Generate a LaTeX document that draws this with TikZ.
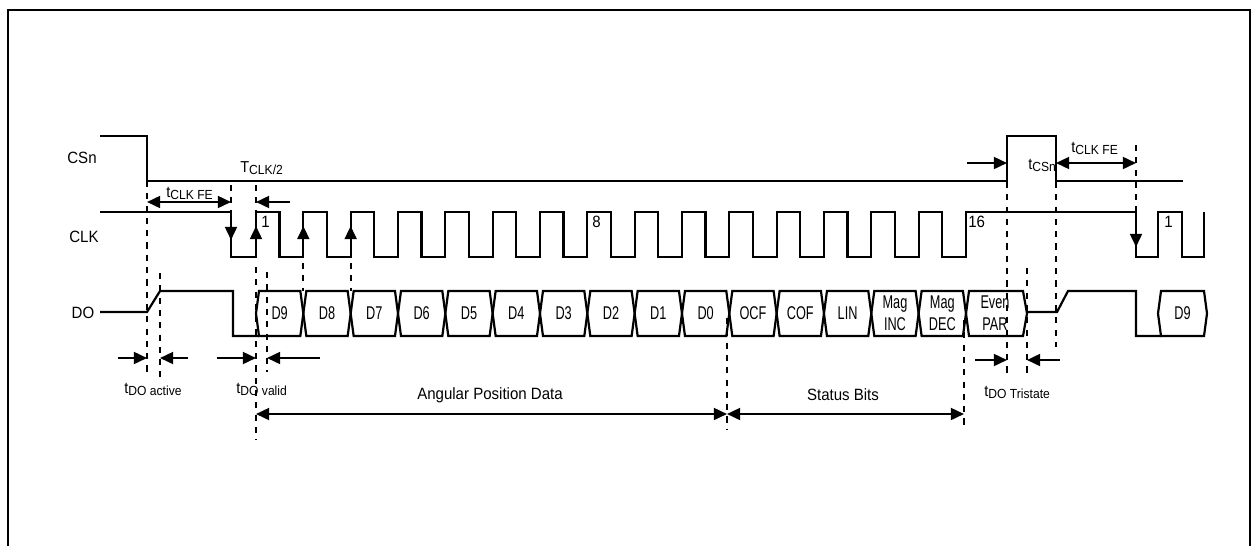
\documentclass[tikz,border=0pt]{standalone}
\usepackage{fontspec}
\setmainfont{Liberation Sans}[FakeStretch=0.92]
\newfontfamily\busfont{Liberation Sans}[FakeStretch=0.69]
\usetikzlibrary{arrows.meta}

\newcommand{\tsub}[2]{#1\raisebox{-1.3pt}{\fontsize{7.5}{8}\selectfont #2}}

\tikzset{
    wave/.style={line width=1.25pt, line join=miter},
    guide/.style={line width=1.25pt, dash pattern=on 3.5pt off 3.5pt},
    tarrow/.style={line width=1.25pt, -{Triangle[length=7.5pt,width=6.8pt]}},
    darrow/.style={line width=1.25pt, {Triangle[length=7.5pt,width=6.8pt]}-{Triangle[length=7.5pt,width=6.8pt]}},
    sig/.style={font=\fontsize{9.3}{11}\selectfont, inner sep=0pt},
    tlabel/.style={font=\fontsize{9}{11}\selectfont, anchor=base west, inner sep=0pt},
    cell/.style={font=\busfont\fontsize{10.5}{12.5}\selectfont, align=center, inner sep=0pt},
    num/.style={font=\fontsize{9.3}{11}\selectfont, anchor=north west, inner sep=0pt}
}

\begin{document}
\begin{tikzpicture}[x=0.02cm, y=-0.02cm]
        \useasboundingbox (0,0) rectangle (1251,545);

        % frame
        \draw[line width=1.25pt] (8,560) -- (8,10) -- (1250,10) -- (1250,560);

        \node[sig] (csn) at (82,158) {CSn};
        \node[sig] (clk) at (84,237) {CLK};
        \node[sig] (do) at (83,313) {DO};

        % CSn
        \draw[wave] (100,136) -- (147,136)
                        -- (147,181)
                        -- (1007,181)
                        -- (1007,136)
                        -- (1056,136)
                        -- (1056,181)
                        -- (1183,181);

        % CLK
        \draw[wave] (100,212) -- (231,212) -- (231,257)
                \foreach \k in {0,...,14} {
                        -- ({256+47.33*\k},257) -- ({256+47.33*\k},212)
                        -- ({279.5+47.33*\k},212) -- ({279.5+47.33*\k},257)
                }
                        -- (966,257) -- (966,212)
                        -- (1136,212) -- (1136,257)
                        -- (1158,257) -- (1158,212)
                        -- (1182,212) -- (1182,257)
                        -- (1204,257) -- (1204,212);

        \node[num] (n1) at (261,216) {1};
        \node[num] (n8) at (592,216) {8};
        \node[num] (n16) at (968,216) {16};
        \node[num] (n1b) at (1164,216) {1};

        \draw[tarrow] (231,212) -- (231,240);
        \draw[tarrow] (256,257) -- (256,226);
        \draw[tarrow] (303.33,257) -- (303.33,226);
        \draw[tarrow] (350.66,257) -- (350.66,226);
        \draw[tarrow] (1136,212) -- (1136,247);

        % DO
        \draw[wave] (100,312) -- (147,312)
                        -- (160,291)
                        -- (233,291)
                        -- (233,336)
                        -- (259,336);

        \foreach \lab [count=\i from 0] in {D9,D8,D7,D6,D5,D4,D3,D2,D1,D0,OCF,COF,LIN,{Mag\\INC},{Mag\\DEC}} {
                \pgfmathsetmacro\xa{256+47.33*\i}
                \pgfmathsetmacro\xb{\xa+47.33}
                \draw[wave] (\xa,313.5) -- ({\xa+3},291) -- ({\xb-3},291)
                        -- (\xb,313.5) -- ({\xb-3},336) -- ({\xa+3},336) -- cycle;
                \node[cell] (c\i) at ({(\xa+\xb)/2},313.5) {\lab};
        }
        \draw[wave] (966,313.5) -- (969,291) -- (1023,291)
                        -- (1027,313.5) -- (1023,336) -- (969,336) -- cycle;
        \node[cell] (par) at (995,313.5) {Even\\PAR};

        \draw[wave] (1027,312) -- (1057,312)
                        -- (1068,291)
                        -- (1136,291)
                        -- (1136,336)
                        -- (1161,336);
        \draw[wave] (1158,313.5) -- (1161,291) -- (1204,291)
                        -- (1207,313.5) -- (1204,336) -- (1161,336) -- cycle;
        \node[cell] (d9b) at (1182.5,313.5) {D9};

        % guides
        \draw[guide] (147,181) -- (147,377);
        \draw[guide] (160,273) -- (160,377);
        \draw[guide] (231,185) -- (231,212);
        \draw[guide] (256,185) -- (256,210);
        \draw[guide] (256,267) -- (256,440);
        \draw[guide] (267,272) -- (267,372);
        \draw[guide] (303.33,263) -- (303.33,291);
        \draw[guide] (350.66,263) -- (350.66,291);
        \draw[guide] (727,318) -- (727,430);
        \draw[guide] (964,320) -- (964,430);
        \draw[guide] (1007,182) -- (1007,378);
        \draw[guide] (1027,268) -- (1027,378);
        \draw[guide] (1056,182) -- (1056,347);
        \draw[guide] (1136,145) -- (1136,212);

        % timing arrows
        \coordinate (FE1) at (147,202);
        \coordinate (FE2) at (231,202);
        \coordinate (H1) at (290,202);
        \coordinate (H2) at (256,202);
        \coordinate (A1) at (118,358);
        \coordinate (A2) at (147,358);
        \coordinate (A3) at (188,358);
        \coordinate (A4) at (160,358);
        \coordinate (V1) at (217,358);
        \coordinate (V2) at (256,358);
        \coordinate (V3) at (320,358);
        \coordinate (V4) at (267,358);
        \coordinate (P1) at (256,414);
        \coordinate (P2) at (727,414);
        \coordinate (P3) at (964,414);
        \coordinate (C1) at (967,163);
        \coordinate (C2) at (1007,163);
        \coordinate (C3) at (1056,163);
        \coordinate (C4) at (1136,163);
        \coordinate (T1) at (975,360);
        \coordinate (T2) at (1007,360);
        \coordinate (T3) at (1060,360);
        \coordinate (T4) at (1027,360);

        \draw[darrow] (FE1) -- (FE2);
        \draw[tarrow] (H1) -- (H2);
        \draw[tarrow] (A1) -- (A2);
        \draw[tarrow] (A3) -- (A4);
        \draw[tarrow] (V1) -- (V2);
        \draw[tarrow] (V3) -- (V4);
        \draw[darrow] (P1) -- (P2);
        \draw[darrow] (P2) -- (P3);
        \draw[tarrow] (C1) -- (C2);
        \draw[darrow] (C3) -- (C4);
        \draw[tarrow] (T1) -- (T2);
        \draw[tarrow] (T3) -- (T4);

        \node[tlabel] (tfe1) at (166,197) {\tsub{t}{CLK FE}};
        \node[tlabel] (tclk2) at (240,172) {\tsub{T}{CLK/2}};
        \node[tlabel] (tact) at (124,393) {\tsub{t}{DO active}};
        \node[tlabel] (tval) at (236,393) {\tsub{t}{DO valid}};
        \node[tlabel] (tcsn) at (1028,169) {\tsub{t}{CSn}};
        \node[tlabel] (tfe2) at (1071,152) {\tsub{t}{CLK FE}};
        \node[tlabel] (ttri) at (984,396) {\tsub{t}{DO Tristate}};
        \node[sig, anchor=base] (apd) at (490,399) {Angular Position Data};
        \node[sig, anchor=base] (stb) at (843,400) {Status Bits};
\end{tikzpicture}
\end{document}
